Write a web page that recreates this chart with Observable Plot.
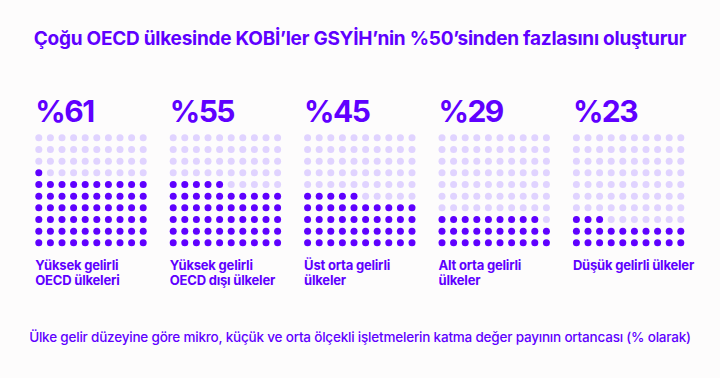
<!DOCTYPE html>
<html>
<head>
<meta charset="utf-8">
<script src="https://cdn.jsdelivr.net/npm/d3@7"></script>
<script src="https://cdn.jsdelivr.net/npm/@observablehq/plot@0.6"></script>
<style>
  html, body { margin: 0; padding: 0; background: #fdfcfc; }
  #wrap { position: relative; width: 720px; height: 378px; overflow: hidden; font-family: Inter, "Noto Sans", sans-serif; }
  #title { position: absolute; left: 0; width: 720px; top: 28.5px; text-align: center; font-size: 19px; line-height: 1; font-weight: 650; color: #5f00ff; letter-spacing: -0.25px; white-space: nowrap; }
  #caption { position: absolute; left: 0; width: 720px; top: 330.5px; text-align: center; font-size: 13.5px; line-height: 1; font-weight: 500; color: #5f00ff; letter-spacing: -0.2px; white-space: nowrap; }
  #chart { position: absolute; left: 0; top: 0; }
</style>
</head>
<body>
<div id="wrap">
  <div id="title">Çoğu OECD ülkesinde KOBİ’ler GSYİH’nin %50’sinden fazlasını oluşturur</div>
  <div id="chart"></div>
  <div id="caption">Ülke gelir düzeyine göre mikro, küçük ve orta ölçekli işletmelerin katma değer payının ortancası (% olarak)</div>
</div>
<script>
const categories = [
  "Yüksek gelirli\nOECD ülkeleri",
  "Yüksek gelirli\nOECD dışı ülkeler",
  "Üst orta gelirli\nülkeler",
  "Alt orta gelirli\nülkeler",
  "Düşük gelirli ülkeler"
];
const values = [61, 55, 45, 29, 23];
const valueLabels = ["%61", "%55", "%45", "%29", "%23"];

const purple = "#5f00ff";
const lightPurple = "#e0d3ff";
const panelStep = 134.4 / 11.6; // panel offset in dot-spacing units
const cols = 10, rows = 10;

const dots = [];
categories.forEach((cat, p) => {
  for (let r = 0; r < rows; r++) {
    for (let c = 0; c < cols; c++) {
      const k = (rows - 1 - r) * cols + c;
      dots.push({panel: p, cat, x: p * panelStep + c, row: r, filled: k < values[p]});
    }
  }
});
const panels = categories.map((cat, p) => ({cat, x: p * panelStep, label: valueLabels[p], value: values[p]}));

const chart = Plot.plot({
  width: 720,
  height: 378,
  marginLeft: 38.3,
  marginRight: 39.7,
  marginTop: 137.3,
  marginBottom: 135.7,
  x: {type: "linear", domain: [0, 4 * panelStep + 9], axis: null},
  y: {type: "linear", domain: [0, 9], reverse: true, axis: null},
  style: {background: "transparent", fontFamily: "Inter, 'Noto Sans', sans-serif"},
  marks: [
    Plot.dot(dots, {x: "x", y: "row", r: 3.5, fill: d => d.filled ? purple : lightPurple, stroke: "none"}),
    Plot.text(panels, {x: "x", y: () => 0, text: "label", textAnchor: "start", lineAnchor: "bottom", dx: -3.5, dy: -16, fontSize: 30, fontWeight: 700, fill: purple}),
    Plot.text(panels, {x: "x", y: () => 9, text: "cat", textAnchor: "start", lineAnchor: "top", dx: -3.5, dy: 16.5, fontSize: 13, fontWeight: 650, fill: purple, lineHeight: 1.16})
  ]
});
const textGroups = chart.querySelectorAll('g[aria-label="text"]');
if (textGroups[0]) textGroups[0].style.letterSpacing = "-1.5px";
if (textGroups[1]) textGroups[1].style.letterSpacing = "-0.2px";
document.getElementById("chart").appendChild(chart);
</script>
</body>
</html>
